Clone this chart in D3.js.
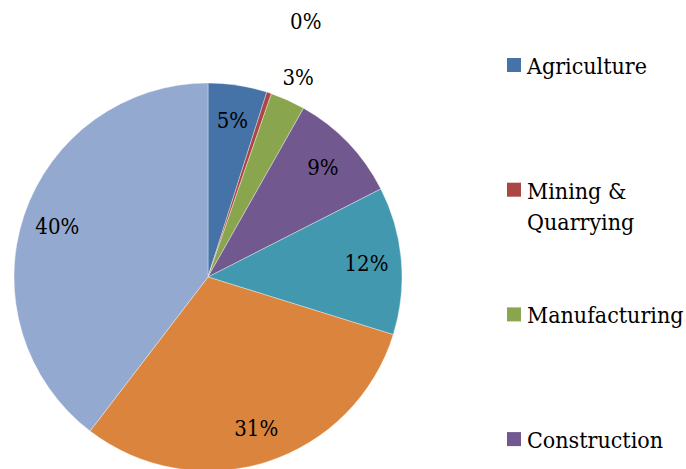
<!DOCTYPE html>
<html>
<head>
<meta charset="utf-8">
<script src="https://cdn.jsdelivr.net/npm/d3@7"></script>
<style>
  html, body { margin: 0; padding: 0; background: #fff; }
  svg { display: block; }
</style>
</head>
<body>
<div id="chart"></div>
<script>
// sector shares (%)
const categories = ['Agriculture', 'Mining & Quarrying', 'Manufacturing', 'Construction', 'Trade', 'Transport', 'Services'];
const shares = [4.9, 0.4, 2.9, 9.3, 12.3, 30.6, 39.6];
const colors = ['#4572A7', '#AA4643', '#89A54E', '#71588F', '#4198AF', '#DB843D', '#93A9CF'];

const width = 686, height = 469;
const cx = 208, cy = 277, radius = 194;
const serif = "'DejaVu Serif Condensed', 'DejaVu Serif', serif";

const data = categories.map((c, i) => ({ name: c, value: shares[i], color: colors[i] }));

const svg = d3.select('#chart').append('svg')
  .attr('width', width)
  .attr('height', height)
  .attr('font-family', serif);

const pie = d3.pie().value(d => d.value).sort(null);
const arcs = pie(data);
const arc = d3.arc().innerRadius(0).outerRadius(radius);

const g = svg.append('g').attr('transform', `translate(${cx},${cy})`);

g.selectAll('path.slice')
  .data(arcs)
  .enter().append('path')
    .attr('class', 'slice')
    .attr('d', arc)
    .attr('fill', d => d.data.color)
    .attr('stroke', '#fff')
    .attr('stroke-opacity', 0.6)
    .attr('stroke-width', 0.6);

// labels: inside for big slices, outside (stacked outward) for tiny ones
const small = arcs.filter(d => d.data.value < 4);
function labelPos(d) {
  let a = (d.startAngle + d.endAngle) / 2;
  let r = radius * 0.82;
  if (d.data.value < 4) {
    const k = small.length - 1 - small.indexOf(d);
    r = radius * (1.13 + 0.28 * k);
    a += k * 0.045; // nudge stacked label clockwise to clear its neighbour
  }
  return [Math.sin(a) * r, -Math.cos(a) * r];
}

g.selectAll('text.pct')
  .data(arcs)
  .enter().append('text')
    .attr('class', 'pct')
    .attr('transform', d => `translate(${labelPos(d)})`)
    .attr('text-anchor', 'middle')
    .attr('dy', '0.35em')
    .style('font-family', serif)
    .style('font-stretch', 'condensed')
    .style('font-size', '22px')
    .text(d => Math.round(d.data.value) + '%');

// legend (only the entries that fit inside the picture)
const legendX = 507, legendTop = 74, legendStep = 124.7, lineH = 31;
const maxTextW = width - 527;

const legend = svg.append('g');
data.forEach((d, i) => {
  const y = legendTop + i * legendStep;
  if (y > height) return;
  const item = legend.append('g').attr('transform', `translate(${legendX},${y})`);
  item.append('rect')
    .attr('x', 0)
    .attr('y', -16)
    .attr('width', 14)
    .attr('height', 14)
    .attr('fill', d.color);
  const t = item.append('text')
    .attr('x', 20)
    .attr('y', 0)
    .style('font-family', serif)
    .style('font-stretch', 'condensed')
    .style('font-size', '23px');

  // simple word wrap
  const words = d.name.split(' ');
  let line = [];
  let tspan = t.append('tspan').attr('x', 20).attr('dy', 0);
  words.forEach(w => {
    line.push(w);
    tspan.text(line.join(' '));
    if (tspan.node().getComputedTextLength() > maxTextW && line.length > 1) {
      line.pop();
      tspan.text(line.join(' '));
      line = [w];
      tspan = t.append('tspan').attr('x', 20).attr('dy', lineH).text(w);
    }
  });
});
</script>
</body>
</html>
